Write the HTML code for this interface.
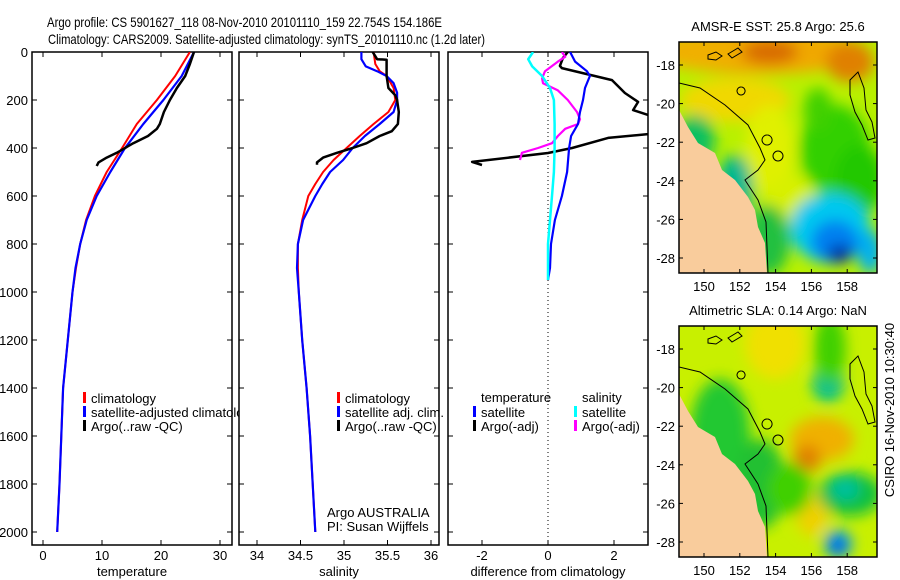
<!DOCTYPE html>
<html><head><meta charset="utf-8"><style>
html,body{margin:0;padding:0;background:#fff}
svg{display:block;font-family:"Liberation Sans",sans-serif}
text{font-size:13px;fill:#000}
</style></head><body>
<svg id="fig" width="900" height="580" viewBox="0 0 900 580" xmlns="http://www.w3.org/2000/svg">
<defs>
<clipPath id="c1"><rect x="32" y="52" width="200" height="493"/></clipPath>
<clipPath id="c2"><rect x="239" y="52" width="200" height="493"/></clipPath>
<clipPath id="c3"><rect x="448" y="52" width="200" height="493"/></clipPath>
<clipPath id="cl1"><rect x="32" y="52" width="207" height="493"/></clipPath>
<clipPath id="m1"><rect x="679" y="42" width="198" height="231"/></clipPath>
<clipPath id="m2"><rect x="679" y="326" width="198" height="231"/></clipPath>
<filter id="bl" x="-50%" y="-50%" width="200%" height="200%"><feGaussianBlur stdDeviation="7"/></filter>
</defs>
<text x="47" y="27" textLength="395" lengthAdjust="spacingAndGlyphs" style="font-size:14px">Argo profile: CS 5901627_118 08-Nov-2010 20101110_159 22.754S 154.186E</text>
<text x="48" y="44" textLength="437" lengthAdjust="spacingAndGlyphs" style="font-size:14px">Climatology: CARS2009. Satellite-adjusted climatology: synTS_20101110.nc (1.2d later)</text>
<g id="panels"></g>
<g id="maps"></g>
<text transform="translate(894,410) rotate(-90)" text-anchor="middle" style="font-size:13px">CSIRO 16-Nov-2010 10:30:40</text>
</svg>
<script>
// ---- data ----
const depthT = [0,100,200,300,400,500,600,700,800,900,1000,1200,1400,1600,1800,2000];
const tClim = [24.9,22.4,19.3,15.9,13.4,10.8,8.8,7.3,6.3,5.6,5.0,4.2,3.4,3.1,2.8,2.4];
const tSat = [25.6,23.5,20.4,17,13.9,11.4,9.1,7.4,6.3,5.5,5.0,4.2,3.4,3.1,2.8,2.4];
const depthTA = [0,50,100,150,200,250,300,320,350,380,420,440,460,475];
const tArgo = [25.6,24.9,24.1,22.7,21.5,20.5,19.8,19.3,17.8,15.3,12.5,10.8,9.4,9.1];
const depthSC = [0,50,80,100,150,200,250,300,350,400,450,500,550,600,700,800,900,1000,1200,1400,1600,1800,2000];
const sClim = [35.34,35.36,35.41,35.49,35.57,35.59,35.51,35.34,35.18,35.03,34.88,34.76,34.67,34.59,34.52,34.47,34.47,34.48,34.52,34.57,34.61,34.64,34.67];
const depthSS = [0,30,60,80,100,130,170,200,250,300,350,400,450,500,550,600,700,800,900,1000,1200,1400,1600,1800,2000];
const sSat = [35.2,35.2,35.25,35.38,35.49,35.57,35.61,35.61,35.57,35.41,35.24,35.1,34.99,34.84,34.75,34.67,34.53,34.47,34.46,34.48,34.52,34.57,34.61,34.64,34.67];
const depthSA = [0,30,32,100,150,180,200,250,300,330,350,380,400,420,440,460,470];
const sArgo = [35.33,35.38,35.49,35.49,35.51,35.59,35.61,35.63,35.62,35.55,35.41,35.26,35.1,34.92,34.76,34.69,34.69];
const depthDT = [0,40,80,100,150,200,250,300,350,400,500,600,700,800,900,950];
const dTsat = [0.67,0.82,1.18,1.27,1.12,1.06,0.97,0.91,0.7,0.64,0.58,0.42,0.21,0.09,0.06,0.0];
const depthDS = [0,30,60,100,150,200,300,400,500,600,700,800,950];
const dSsat = [-0.45,-0.6,-0.48,-0.18,0.06,0.18,0.2,0.2,0.18,0.12,0.06,0,0];
const depthDSA = [0,20,40,80,110,130,160,200,250,280,300,320,350,380,400,420,450];
const dSargo = [0.42,0.52,0.3,-0.09,-0.18,-0.15,0.3,0.6,0.88,0.97,0.91,0.52,0.3,0.12,-0.3,-0.79,-0.85];
const depthDTA = [0,25,58,67,117,171,208,242,262,304,342,358,400,421,458,471];
const dTargo = [0.6,0.45,0.36,0.42,1.94,2.33,2.73,2.58,3.03,3.4,3.03,1.82,0.73,0,-2.3,-2.0];
const depthTicks = [0,200,400,600,800,1000,1200,1400,1600,1800,2000];
const tTicks = [0,10,20,30];
const sTicks = [34,34.5,35,35.5,36];
const dTicks = [-2,0,2];
const lonTicks = [150,152,154,156,158];
const latTicks = [-18,-20,-22,-24,-26,-28];

const NS='http://www.w3.org/2000/svg';
const yD = d => 52 + d*0.24;
const xT = v => 43 + v*5.9;
const xS = v => 257 + (v-34)*87;
const xDf = v => 548 + v*33;
function mk(tag, attrs, parent){const e=document.createElementNS(NS,tag);for(const k in attrs)e.setAttribute(k,attrs[k]);parent.appendChild(e);return e;}
const P=document.getElementById('panels');

function panel(x0,name,clip,ticks,xf,xlabel){
  const g=mk('g',{},P);
  
  
  const r=mk('rect',{x:x0,y:52,width:200,height:493,fill:'none',stroke:'#000','stroke-width':1.5},g);
  
  
  depthTicks.forEach(d=>{
    mk('line',{x1:x0,x2:x0+5,y1:yD(d),y2:yD(d),stroke:'#000'},g);
    mk('line',{x1:x0+200,x2:x0+195,y1:yD(d),y2:yD(d),stroke:'#000'},g);
  });
  ticks.forEach(v=>{
    const x=xf(v);
    mk('line',{x1:x,x2:x,y1:545,y2:540,stroke:'#000'},g);
    mk('line',{x1:x,x2:x,y1:52,y2:57,stroke:'#000'},g);
    const t=mk('text',{x:x,y:560,'text-anchor':'middle'},g);t.textContent=String(v);
    
    
  });
  const xl=mk('text',{x:x0+100,y:576,'text-anchor':'middle'},g);xl.textContent=xlabel;
  
  
  return g;
}
function line(g,clip,ds,vs,xf,col,w,name){
  const pts=ds.map((d,i)=>xf(vs[i]).toFixed(1)+','+yD(d).toFixed(1)).join(' ');
  const p=mk('polyline',{points:pts,fill:'none',stroke:col,'stroke-width':w,'clip-path':'url(#'+clip+')','stroke-linejoin':'round'},g);
  
  
}
depthTicks.forEach(d=>{const t=mk('text',{x:28,y:yD(d)+5,'text-anchor':'end'},P);t.textContent=String(d);
  
  });

const g1=panel(32,'temperature-panel','c1',tTicks,xT,'temperature');
line(g1,'c1',depthT,tClim,xT,'#f00',2,'temp-climatology-line');
line(g1,'c1',depthT,tSat,xT,'#00f',2.2,'temp-satellite-line');
line(g1,'c1',depthTA,tArgo,xT,'#000',2.5,'temp-argo-line');
const g2=panel(239,'salinity-panel','c2',sTicks,xS,'salinity');
line(g2,'c2',depthSC,sClim,xS,'#f00',2,'sal-climatology-line');
line(g2,'c2',depthSS,sSat,xS,'#00f',2.2,'sal-satellite-line');
line(g2,'c2',depthSA,sArgo,xS,'#000',2.5,'sal-argo-line');
const g3=panel(448,'difference-panel','c3',dTicks,xDf,'difference from climatology');
mk('line',{x1:548,x2:548,y1:52,y2:545,stroke:'#000','stroke-dasharray':'1,3'},g3);
line(g3,'c3',depthDTA,dTargo,xDf,'#000',2.5,'diff-temp-argo-line');
line(g3,'c3',depthDSA,dSargo,xDf,'#f0f',2.2,'diff-sal-argo-line');
line(g3,'c3',depthDT,dTsat,xDf,'#00f',2.2,'diff-temp-satellite-line');
line(g3,'c3',depthDS,dSsat,xDf,'#0ff',2.5,'diff-sal-satellite-line');

function legend(g,x,y,col,label,clip){
  if(col){const b=mk('rect',{x:x,y:y-6,width:3,height:11,fill:col},g);
    
    }
  const t=mk('text',{x:x+8,y:y+5},g);t.textContent=label;
  if(clip)t.setAttribute('clip-path','url(#'+clip+')');
  
  
}
legend(g1,83,398,'#f00','climatology');
legend(g1,83,412,'#00f','satellite-adjusted climatology','cl1');
legend(g1,83,426,'#000','Argo(..raw -QC)');
legend(g2,337,398,'#f00','climatology');
legend(g2,337,412,'#00f','satellite adj. clim.');
legend(g2,337,426,'#000','Argo(..raw -QC)');
legend(g3,473,397,null,'temperature');
legend(g3,473,412,'#00f','satellite');
legend(g3,473,426,'#000','Argo(-adj)');
legend(g3,574,397,null,'salinity');
legend(g3,574,412,'#0ff','satellite');
legend(g3,574,426,'#f0f','Argo(-adj)');
{const t=mk('text',{x:327,y:517},g2);t.textContent='Argo AUSTRALIA';
 
 
 const t2=mk('text',{x:327,y:531},g2);t2.textContent='PI: Susan Wijffels';
 
 }

// ---- maps ----
const M=document.getElementById('maps');
const lonX = v => 704 + (v-150)*17.9;
const latY = (v,off) => 65 + off + (-18 - v)*19.3;
const land = "679,110 688,127 698,143 715,153 722,170 735,180 748,197 755,210 758,227 765,243 767,273 679,273";
function map(off,clip,title,base,blobs,name){
  const g=mk('g',{},M);
  
  
  const cg=mk('g',{'clip-path':'url(#'+clip+')'},g);
  mk('rect',{x:679,y:42+off,width:198,height:231,fill:base},cg);
  const bg=mk('g',{filter:'url(#bl)'},cg);
  blobs.forEach(b=>mk('ellipse',{cx:b[0],cy:b[1]+off,rx:b[2],ry:b[3],fill:b[4]},bg));
  const lp=mk('polygon',{points:land,fill:'#f9cc9c',transform:'translate(0,'+off+')'},cg);
  
  
  const cs=[
   "M679,83 L700,88 L725,105 L748,125 L760,148 L765,160 L758,170 L745,180 L758,200 L766,222 L768,273",
   "M850,80 L858,72 L864,88 L866,110 L872,122 L875,138 L868,140 L862,125 L855,112 L850,95 Z",
   "M708,55 L716,52 L722,56 L716,60 L708,59 Z M728,54 L738,48 L742,52 L732,58 Z",
   "M741,87 a4,4 0 1,0 0.1,0 M767,135 a5,5 0 1,0 0.1,0"];
  cs.forEach(d=>mk('path',{d:d,fill:'none',stroke:'#000','stroke-width':1,transform:'translate(0,'+off+')'},cg));
  const c=mk('circle',{cx:778,cy:156+off,r:5,fill:'none',stroke:'#000'},cg);
  
  
  mk('rect',{x:679,y:42+off,width:198,height:231,fill:'none',stroke:'#000','stroke-width':1.5},g);
  lonTicks.forEach(v=>{const x=lonX(v);
    mk('line',{x1:x,x2:x,y1:42+off,y2:46+off,stroke:'#000'},g);
    mk('line',{x1:x,x2:x,y1:273+off,y2:269+off,stroke:'#000'},g);
    const t=mk('text',{x:x,y:291+off,'text-anchor':'middle'},g);t.textContent=String(v);
    
    });
  latTicks.forEach(v=>{const y=latY(v,off);
    mk('line',{x1:679,x2:683,y1:y,y2:y,stroke:'#000'},g);
    mk('line',{x1:877,x2:873,y1:y,y2:y,stroke:'#000'},g);
    const t=mk('text',{x:675,y:y+5,'text-anchor':'end'},g);t.textContent=String(v);
    
    });
  const t=mk('text',{x:778,y:31+off,'text-anchor':'middle'},g);t.textContent=title;
  
  
}
map(0,'m1','AMSR-E SST: 25.8 Argo: 25.6','#b8f000',[
 [760,52,110,22,'#f0a800'],[770,52,28,12,'#d86a00'],[850,62,24,20,'#e08000'],[700,55,40,14,'#f0b000'],
 [735,100,55,22,'#f0d800'],[770,150,25,45,'#e0f000'],[790,200,25,25,'#d8f000'],
 [835,150,35,45,'#30d000'],[860,180,25,35,'#20c800'],[818,110,14,22,'#40d000'],
 [695,140,20,25,'#10c060'],[735,190,18,35,'#00b890'],[768,240,22,35,'#20c040'],
 [830,228,40,35,'#00c8f0'],[835,242,24,22,'#0080f0'],[840,254,12,9,'#0020a0'],[870,252,12,22,'#00b0f0']
],'sst-map');
map(284,'m2','Altimetric SLA: 0.14 Argo: NaN','#c8f000',[
 [775,60,30,35,'#f0e000'],[720,150,30,55,'#20c830'],[760,200,25,45,'#20c030'],[828,100,16,18,'#00c090'],
 [830,65,16,35,'#40d000'],[822,155,32,22,'#f0b000'],[807,175,14,14,'#e08000'],[812,230,16,22,'#f0d000'],
 [850,210,32,22,'#10c040'],[845,205,14,11,'#00c0a0'],[838,260,14,14,'#00a0f0'],[838,262,7,8,'#0040e0'],
 [790,205,22,26,'#40d000']
],'sla-map');
</script>
</body></html>
